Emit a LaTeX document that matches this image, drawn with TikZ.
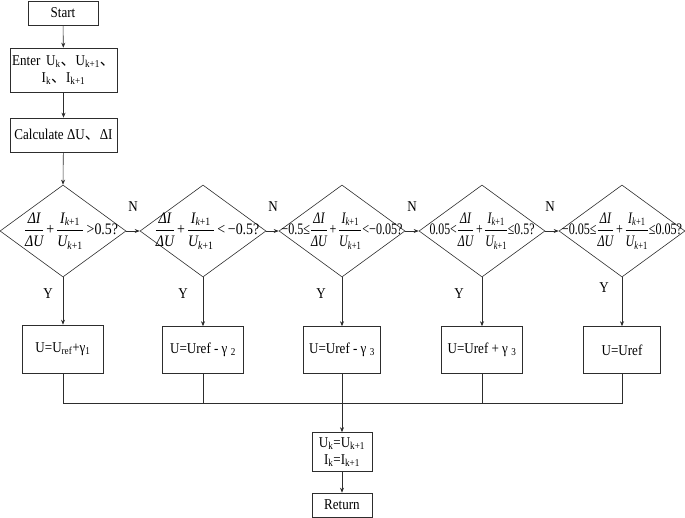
\documentclass[tikz,border=0pt]{standalone}
\usepackage{amsmath}
\usepackage{fontspec}
\setmainfont{Liberation Serif}[FakeStretch=0.87]
\newfontfamily\cjk{Noto Sans CJK SC}
\usetikzlibrary{arrows.meta, positioning, shapes.geometric}
\definecolor{linecol}{RGB}{45,45,45}
\newcommand{\dunhao}{{\cjk 、}}
\newcommand{\ratiosum}{\dfrac{\textit{ΔI}}{\textit{ΔU}}\mkern2mu\text{+}\mkern2mu\dfrac{\textit{I}_{\text{\textit{k}+1}}}{\textit{U}_{\text{\textit{k}+1}}}}
\tikzset{
  procbox/.style={rectangle,draw=linecol,semithick,font=\fontsize{15}{17}\selectfont,inner sep=1pt,align=center},
  decision/.style={diamond,draw=linecol,semithick,minimum width=126pt,minimum height=92pt,inner sep=0pt},
  condtext/.style={font=\fontsize{16}{18}\selectfont,inner sep=0pt},
  flowarrow/.style={-{Stealth[length=5pt,width=4pt]},semithick,linecol},
  flowline/.style={semithick,linecol},
  yesno/.style={font=\fontsize{15}{17}\selectfont,inner sep=1pt},
}
\begin{document}
\begin{tikzpicture}[x=1pt,y=-1pt]
  \useasboundingbox (0,0) rectangle (685,518);
  \node[procbox,minimum width=70pt,minimum height=24pt] (start) at (63,13) {Start};
  \node[procbox,minimum width=107pt,minimum height=44pt] (enter) at (63.5,70) {Enter\, U\textsubscript{k}\dunhao U\textsubscript{k+1}\dunhao\\I\textsubscript{k}\dunhao I\textsubscript{k+1}};
  \node[procbox,minimum width=107pt,minimum height=34pt] (calc) at (63.5,135) {Calculate ΔU\dunhao ΔI};
  \node[decision] (d1) at (63,231) {};
  \node[decision] (d2) at (203,231) {};
  \node[decision] (d3) at (342,231) {};
  \node[decision] (d4) at (482,231) {};
  \node[decision] (d5) at (622,231) {};
  \node[condtext] (c1) at ([xshift=8pt]d1) {$\ratiosum\text{\,>0.5?}$};
  \node[condtext] (c2) at ([xshift=4pt]d2) {$\ratiosum\text{\,<\,−0.5?}$};
  \node[condtext] (c3) at (d3) {\scalebox{0.87}[1]{$\text{−0.5≤}\ratiosum\text{<−0.05?}$}};
  \node[condtext] (c4) at (d4) {\scalebox{0.85}[1]{$\text{0.05<}\ratiosum\text{≤0.5?}$}};
  \node[condtext] (c5) at (d5) {\scalebox{0.87}[1]{$\text{−0.05≤}\ratiosum\text{≤0.05?}$}};
  \node[procbox,minimum width=81pt,minimum height=48pt] (b1) at (63,349) {U=U\textsubscript{ref}+γ\textsubscript{1}};
  \node[procbox,minimum width=81pt,minimum height=47pt] (b2) at (203,350) {U=Uref - γ \textsubscript{2}};
  \node[procbox,minimum width=77pt,minimum height=47pt] (b3) at (342,350) {U=Uref - γ \textsubscript{3}};
  \node[procbox,minimum width=81pt,minimum height=47pt] (b4) at (482,350) {U=Uref + γ \textsubscript{3}};
  \node[procbox,minimum width=77pt,minimum height=47pt] (b5) at (622,350) {U=Uref};
  \node[procbox,minimum width=60pt,minimum height=39pt] (upd) at (342,452) {U\textsubscript{k}=U\textsubscript{k+1}\\I\textsubscript{k}=I\textsubscript{k+1}};
  \node[procbox,minimum width=60pt,minimum height=24pt] (ret) at (342,505) {Return};
  \node[yesno] (n1) at (133,207) {N};
  \node[yesno] (n2) at (273,207) {N};
  \node[yesno] (n3) at (412,207) {N};
  \node[yesno] (n4) at (550,207) {N};
  \node[yesno] (y1) at (48,294) {Y};
  \node[yesno] (y2) at (183,294) {Y};
  \node[yesno] (y3) at (321,294) {Y};
  \node[yesno] (y4) at (459,294) {Y};
  \node[yesno] (y5) at (604,288) {Y};
  \coordinate (join) at (342,403);
  \draw[flowarrow] (start)--(enter); \draw[flowarrow] (enter)--(calc);
  \draw[flowarrow] (calc)--(d1.north);
  \draw[flowarrow] (d1.east)--(d2.west); \draw[flowarrow] (d2.east)--(d3.west);
  \draw[flowarrow] (d3.east)--(d4.west); \draw[flowarrow] (d4.east)--(d5.west);
  \draw[flowarrow] (d1.south)--(b1.north); \draw[flowarrow] (d2.south)--(b2.north);
  \draw[flowarrow] (d3.south)--(b3.north); \draw[flowarrow] (d4.south)--(b4.north);
  \draw[flowarrow] (d5.south)--(b5.north);
  \draw[flowline] (b1.south) |- (join); \draw[flowline] (b5.south) |- (join);
  \draw[flowline] (b2.south) -- (b2.south |- join); \draw[flowline] (b4.south) -- (b4.south |- join);
  \draw[flowarrow] (b3.south)--(upd.north);
  \draw[flowarrow] (upd)--(ret);
\end{tikzpicture}
\end{document}
